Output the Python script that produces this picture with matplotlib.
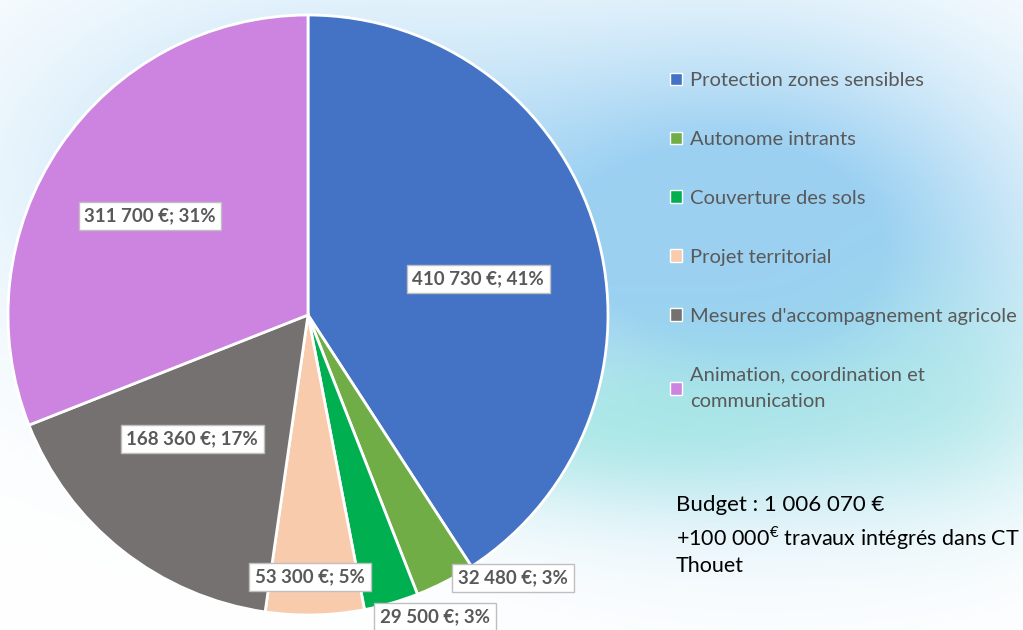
import numpy as np
import matplotlib.pyplot as plt
from matplotlib.patches import Patch

# Données
categories = ["Protection zones sensibles", "Autonome intrants", "Couverture des sols",
              "Projet territorial", "Mesures d'accompagnement agricole",
              "Animation, coordination et\ncommunication"]
montants = [410730, 32480, 29500, 53300, 168360, 311700]
etiquettes = ["410 730 €; 41%", "32 480 €; 3%", "29 500 €; 3%",
              "53 300 €; 5%", "168 360 €; 17%", "311 700 €; 31%"]
couleurs = ["#4472C4", "#70AD47", "#00B050", "#F8CBAD", "#767171", "#CC84E0"]
pos_etiquettes = [(478, 279), (513, 578), (435, 617), (310, 577), (192, 439), (150, 216)]

plt.rcParams['font.family'] = ['Lato', 'DejaVu Sans']
plt.rcParams['mathtext.fontset'] = 'custom'
plt.rcParams['mathtext.rm'] = 'Lato'

fig = plt.figure(figsize=(10.23, 6.3), dpi=100)
ax = fig.add_axes([0, 0, 1, 1])

# fond aquarelle (approximation)
yy, xx = np.mgrid[0:630, 0:1023]
def blob(cx, cy, sx, sy):
    return np.exp(-(((xx - cx) / sx) ** 2 + ((yy - cy) / sy) ** 2))
a_bleu = np.clip(1.2 * blob(760, 250, 280, 210) + 0.6 * blob(300, 180, 300, 200), 0, 1)
a_cyan = np.clip(0.9 * blob(640, 420, 260, 80) + 0.5 * blob(950, 380, 120, 120), 0, 1)
img = np.ones((630, 1023, 3))
bleu = np.array([155, 208, 242]) / 255
cyan = np.array([160, 232, 225]) / 255
img = img * (1 - a_bleu[..., None]) + bleu * a_bleu[..., None]
img = img * (1 - 0.8 * a_cyan[..., None]) + cyan * 0.8 * a_cyan[..., None]
ax.imshow(img, extent=(0, 1023, 630, 0), zorder=0, aspect='auto')

# axe y inversé : sens horaire visuel
wedges, _ = ax.pie(montants, colors=couleurs, startangle=270, counterclock=True,
                   center=(308, 315), radius=300, frame=True,
                   wedgeprops=dict(edgecolor='white', linewidth=2))
for w in wedges:
    w.set_zorder(2)
ax.set_xlim(0, 1023)
ax.set_ylim(630, 0)
ax.set_aspect('auto')
ax.axis('off')

for txt, (x, y) in zip(etiquettes, pos_etiquettes):
    ax.text(x, y, txt, ha='center', va='center', fontsize=13.5, fontweight='bold',
            color='#595959', zorder=5,
            bbox=dict(boxstyle='square,pad=0.3', facecolor='white', edgecolor='#BFBFBF', linewidth=1))

handles = [Patch(facecolor=c, edgecolor='white', linewidth=1) for c in couleurs]
leg = ax.legend(handles, categories, loc='upper left', bbox_to_anchor=(652 / 1023, 1 - 54 / 630),
                frameon=False, fontsize=14.5, labelcolor='#595959', labelspacing=2.08,
                handlelength=0.6, handleheight=0.6, handletextpad=0.4)
leg.get_texts()[-1].set_linespacing(1.7)

ax.text(676, 505, "Budget : 1 006 070 €", fontsize=16, color='black', va='center')
ax.text(676, 538, "+100 000$^{€}$ travaux intégrés dans CT", fontsize=15.5, color='black', va='center')
ax.text(676, 566, "Thouet", fontsize=15.5, color='black', va='center')

fig.savefig("out.png", dpi=100)
